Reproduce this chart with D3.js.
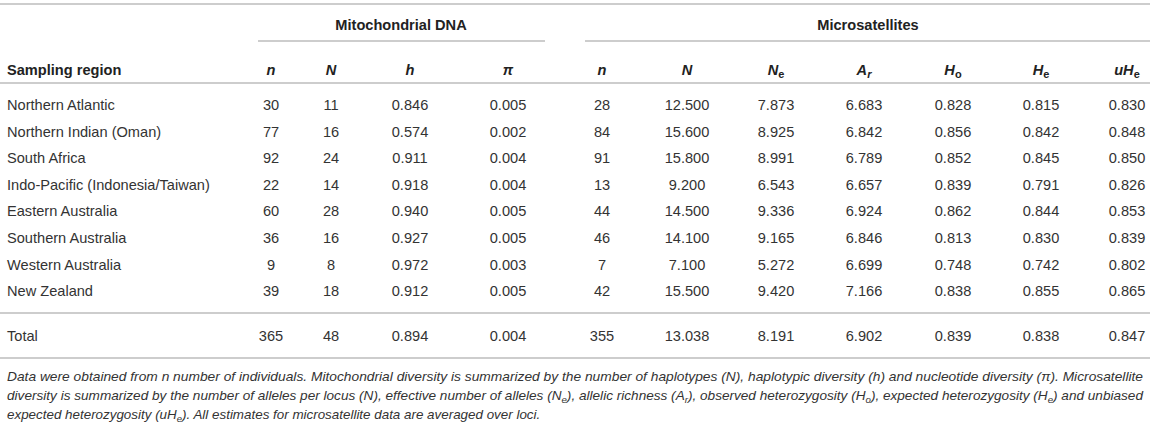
<!DOCTYPE html>
<html>
<head>
<meta charset="utf-8">
<script src="https://cdn.jsdelivr.net/npm/d3@7.9.0/dist/d3.min.js"></script>
<style>
  body { margin: 0; background: #fff; }
  svg { display: block; font-family: "Liberation Sans", Arial, Helvetica, sans-serif; }
  .cell { font-size: 14.6px; fill: #333; }
  .head { font-size: 14.6px; fill: #222; font-weight: bold; }
  .note { font-size: 13.4px; fill: #333; font-style: italic; }
  .rule { stroke: #bdbdbd; stroke-width: 1.6; }
</style>
</head>
<body>
<svg id="table" width="1150" height="426"></svg>
<script>
const regions = [
  'Northern Atlantic', 'Northern Indian (Oman)', 'South Africa',
  'Indo-Pacific (Indonesia/Taiwan)', 'Eastern Australia', 'Southern Australia',
  'Western Australia', 'New Zealand'
];
const mtIndividuals = [30, 77, 92, 22, 60, 36, 9, 39];
const mtHaplotypes = [11, 16, 24, 14, 28, 16, 8, 18];
const mtHapDiversity = [0.846, 0.574, 0.911, 0.918, 0.940, 0.927, 0.972, 0.912];
const mtNucDiversity = [0.005, 0.002, 0.004, 0.004, 0.005, 0.005, 0.003, 0.005];
const msIndividuals = [28, 84, 91, 13, 44, 46, 7, 42];
const msAlleles = [12.5, 15.6, 15.8, 9.2, 14.5, 14.1, 7.1, 15.5];
const msNe = [7.873, 8.925, 8.991, 6.543, 9.336, 9.165, 5.272, 9.420];
const msAr = [6.683, 6.842, 6.789, 6.657, 6.924, 6.846, 6.699, 7.166];
const msHo = [0.828, 0.856, 0.852, 0.839, 0.862, 0.813, 0.748, 0.838];
const msHe = [0.815, 0.842, 0.845, 0.791, 0.844, 0.830, 0.742, 0.855];
const msUHe = [0.830, 0.848, 0.850, 0.826, 0.853, 0.839, 0.802, 0.865];
const totalLabel = 'Total';
const totals = [365, 48, 0.894, 0.004, 355, 13.038, 8.191, 6.902, 0.839, 0.838, 0.847];

const groupLabels = ['Mitochondrial DNA', 'Microsatellites'];
// header: [main italic part, subscript, subscript italic?]
const headers = [
  ['n', '', false], ['N', '', false], ['h', '', false], ['\u03c0', '', false],
  ['n', '', false], ['N', '', false], ['N', 'e', false], ['A', 'r', true],
  ['H', 'o', false], ['H', 'e', false], ['uH', 'e', false]
];
const footnote = [
  [['Data were obtained from n number of individuals. Mitochondrial diversity is summarized by the number of haplotypes (N), haplotypic diversity (h) and nucleotide diversity (\u03c0). Microsatellite']],
  [['diversity is summarized by the number of alleles per locus (N), effective number of alleles (N'], ['e', 1], ['), allelic richness (A'], ['r', 1], ['), observed heterozygosity (H'], ['o', 1], ['), expected heterozygosity (H'], ['e', 1], [') and unbiased']],
  [['expected heterozygosity (uH'], ['e', 1], ['). All estimates for microsatellite data are averaged over loci.']]
];

const columns = [mtIndividuals, mtHaplotypes, mtHapDiversity, mtNucDiversity,
  msIndividuals, msAlleles, msNe, msAr, msHo, msHe, msUHe];
const formats = [d3.format('d'), d3.format('d'), d3.format('.3f'), d3.format('.3f'),
  d3.format('d'), d3.format('.3f'), d3.format('.3f'), d3.format('.3f'),
  d3.format('.3f'), d3.format('.3f'), d3.format('.3f')];

const svg = d3.select('#table');
const W = 1150;

const x = d3.scaleOrdinal()
  .domain(d3.range(columns.length))
  .range([271, 331, 410, 508, 602, 687, 776, 864, 953, 1041, 1127]);
const y = d3.scaleLinear().domain([0, regions.length - 1]).range([105, 291]);
const yTotal = 336;
const base = 5.2;

function rule(x1, x2, yy) {
  svg.append('line').attr('class', 'rule')
    .attr('x1', x1).attr('x2', x2).attr('y1', yy).attr('y2', yy);
}

rule(0, W, 4);
rule(258, 545, 41);
rule(585, W, 41);
rule(0, W, 83);
rule(0, W, 313);
rule(0, W, 358);

// group titles
const groupX = d3.scaleOrdinal().domain(groupLabels).range([401, 868]);
svg.selectAll('text.group').data(groupLabels).join('text')
  .attr('class', 'head group')
  .attr('x', (d) => groupX(d)).attr('y', 25 + base)
  .attr('text-anchor', 'middle')
  .text((d) => d);

// column headers
svg.append('text').attr('class', 'head').attr('x', 7).attr('y', 70 + base).text('Sampling region');
headers.forEach((hd, i) => {
  let t = svg.append('text').attr('class', 'head')
    .attr('x', x(i)).attr('y', 70 + base).attr('text-anchor', 'middle');
  t.append('tspan').attr('font-style', 'italic').text(hd[0]);
  if (hd[1]) {
    t.append('tspan').attr('dy', 3).attr('font-size', 11)
      .attr('font-style', hd[2] ? 'italic' : 'normal').text(hd[1]);
  }
});

// body rows
svg.selectAll('text.region').data(regions).join('text')
  .attr('class', 'cell region')
  .attr('x', 7).attr('y', (d, i) => y(i) + base)
  .text((d) => d);

columns.forEach((col, c) => {
  svg.selectAll(null).data(col).join('text')
    .attr('class', 'cell')
    .attr('x', x(c)).attr('y', (d, i) => y(i) + base)
    .attr('text-anchor', 'middle')
    .text((d) => formats[c](d));
});

// total row
svg.append('text').attr('class', 'cell').attr('x', 7).attr('y', yTotal + base).text(totalLabel);
svg.selectAll('text.total').data(totals).join('text')
  .attr('class', 'cell total')
  .attr('x', (d, i) => x(i)).attr('y', yTotal + base)
  .attr('text-anchor', 'middle')
  .text((d, i) => formats[i](d));

// footnote
const noteY = [376, 395, 414];
footnote.forEach((parts, li) => {
  let t = svg.append('text').attr('class', 'note')
    .attr('x', 7).attr('y', noteY[li] + 4.8);
  if (li < 2) t.attr('textLength', 1136).attr('lengthAdjust', 'spacingAndGlyphs');
  let shifted = false;
  parts.forEach(([str, sub]) => {
    let ts = t.append('tspan').text(str);
    if (sub && !shifted) { ts.attr('dy', 3).attr('font-size', 9.5); shifted = true; }
    else if (!sub && shifted) { ts.attr('dy', -3); shifted = false; }
  });
});
</script>
</body>
</html>
